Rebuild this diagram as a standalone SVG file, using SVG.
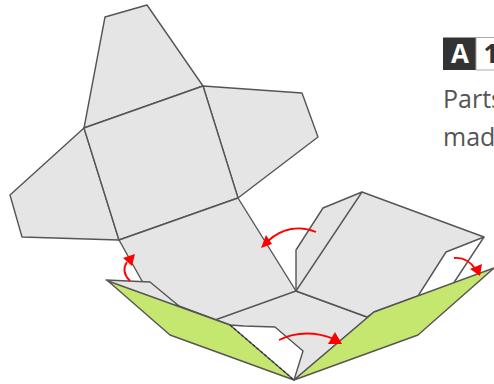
<svg xmlns="http://www.w3.org/2000/svg" width="494" height="384" viewBox="0 0 494 384">
<style>
.p{fill:#e5e5e5;stroke:#555;stroke-width:1.4;stroke-linejoin:round}
.g{fill:#c6e76f;stroke:#555;stroke-width:1.4;stroke-linejoin:round}
.a{fill:none;stroke:#f00;stroke-width:1.8}
.h{fill:#f00}
.t{font-family:"Open Sans",sans-serif;font-size:25px;fill:#555}
.b{font-family:"Open Sans",sans-serif;font-size:26px;font-weight:700}
</style>
<g id="top-flap"><polygon class="p" points="84,128 105,17 147,5 203,86"/></g>
<g id="right-flap"><polygon class="p" points="203,86 302,93 318,137 238,198"/></g>
<g id="left-flap"><polygon class="p" points="84,128 10,195 22,237 119,240"/></g>
<g id="center"><polygon class="p" points="84,128 203,86 238,198 119,240"/></g>
<g id="bottom-panel"><polygon class="p" points="119,240 238,198 296,291 374,312 294,380 303,351 275,327 244,326 230,325 179,306 142,281"/>
<polyline class="p" style="fill:none" points="215,320 296,291 367,317"/></g>
<g id="left-tab"><polygon class="p" points="106,280 150,282 179,306 142,300"/></g>
<g id="right-panel"><polygon class="p" points="296,291 296,250 323,208 362,192 484,237 446,252 418,296 374,312 367,317"/>
<line class="p" x1="296" y1="291" x2="362" y2="192"/>
<line class="p" x1="484" y1="237" x2="453" y2="284"/></g>
<g id="green-left"><polygon class="g" points="108,281 170,335 294,380 230,325"/><line x1="230" y1="325" x2="294" y2="380" stroke="#333" stroke-width="1.2" stroke-dasharray="3 2"/></g>
<g id="green-right"><polygon class="g" points="294,380 374,312 494,268 418,335"/></g>
<g id="connectors">
<path class="a" d="M130,281C124,275 123,268 127,262"/><polygon class="h" points="135,254 123,258 132,266"/>
<path class="a" d="M316,232C300,225 282,228 268,241"/><polygon class="h" points="261,248 266,235 272,244"/>
<path class="a" d="M279,340C297,331 317,332 334,339"/><polygon class="h" points="342,344 335,332 328,344"/>
<path class="a" d="M454,258C464,257 471,262 476,270"/><polygon class="h" points="480,276 482,264 470,269"/>
</g>
<g id="label"><rect x="443" y="37.5" width="33" height="32.5" fill="#333"/><rect x="476" y="37.5" width="30" height="32.5" fill="#fff" stroke="#aaa"/>
<text class="b" x="451" y="63" fill="#fff">A</text>
<text class="b" x="483.5" y="63" fill="#333">1</text>
<text class="t" x="443" y="108">Parts</text><text class="t" x="443" y="146">mad</text></g>
</svg>
